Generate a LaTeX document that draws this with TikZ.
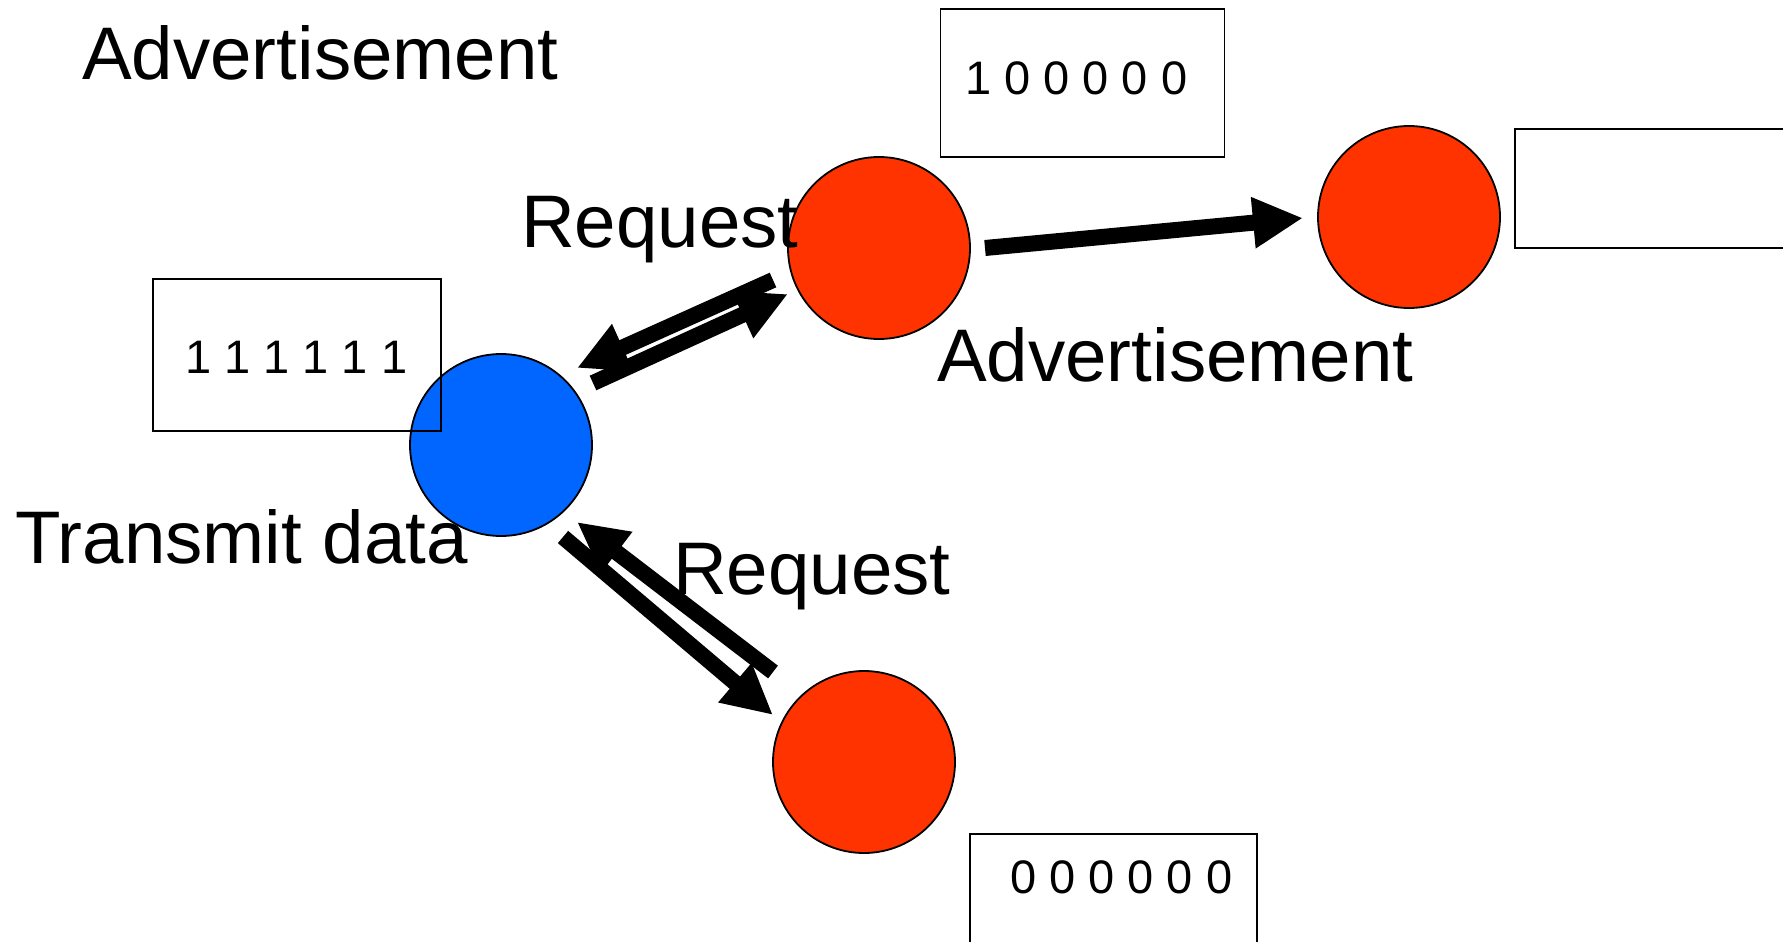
\documentclass[tikz,border=0pt]{standalone}
\usepackage{fontspec}
\setmainfont{Liberation Sans}
\usetikzlibrary{arrows.meta}
\definecolor{nodeblue}{HTML}{0066FF}
\definecolor{nodered}{HTML}{FF3300}
\begin{document}
\begin{tikzpicture}[x=1pt,y=-1pt,
  dot/.style={circle,draw=black,line width=1.8pt,minimum size=182pt,inner sep=0pt},
  bluedot/.style={dot,fill=nodeblue},
  reddot/.style={dot,fill=nodered},
  membox/.style={draw=black,line width=1.8pt},
  big/.style={font=\fontsize{74.5}{90}\selectfont,inner sep=0pt,anchor=base west},
  digits/.style={font=\fontsize{47}{56}\selectfont,inner sep=0pt,anchor=base west},
  blockarrow/.style={line width=16pt,-{Triangle[length=50pt,width=48pt]}}
]
\useasboundingbox (0,0) rectangle (1783,942);
\clip (0,0) rectangle (1783,942);
\fill[white] (0,0) rectangle (1783,942);

% nodes
\node[bluedot] (src) at (501,445) {};
\node[reddot] (top) at (879,248) {};
\node[reddot] (far) at (1409,217) {};
\node[reddot] (bot) at (864,762) {};

% memory boxes
\draw[membox] (152.7,279.3) rectangle (440.7,430.7);
\node[membox,minimum width=284pt,minimum height=148pt,inner sep=0pt] (boxtop) at (1082.5,83) {};
\draw[membox] (1515,129.3) rectangle (1800,247.7);
\draw[membox] (970,834.3) rectangle (1257.3,960);

\node[digits] (dsrc) at (185,373) {1 1 1 1 1 1};
\node[digits] (dtop) at (965,94) {1 0 0 0 0 0};
\node[digits] (dbot) at (1010,893) {0 0 0 0 0 0};

% arrow end points
\coordinate (r1) at (985,248);
\coordinate (r2) at (1303,218);
\coordinate (ua1) at (773,280);
\coordinate (ua2) at (577,368);
\coordinate (ub1) at (593,383);
\coordinate (ub2) at (788,294);
\coordinate (la1) at (773,672);
\coordinate (la2) at (577,522);
\coordinate (lb1) at (563,537);
\coordinate (lb2) at (773,715);

\draw[blockarrow] (r1) -- (r2);
\draw[blockarrow] (ua1) -- (ua2);
\draw[blockarrow] (ub1) -- (ub2);
\draw[blockarrow] (la1) -- (la2);
\draw[blockarrow] (lb1) -- (lb2);

% labels
\node[big] (l1) at (82,80) {Advertisement};
\node[big] (l2) at (521,247) {Request};
\node[big] (l3) at (937,381) {Advertisement};
\node[big] (l4) at (15,563) {Transmit data};
\node[big] (l5) at (673,594) {Request};
\end{tikzpicture}
\end{document}
